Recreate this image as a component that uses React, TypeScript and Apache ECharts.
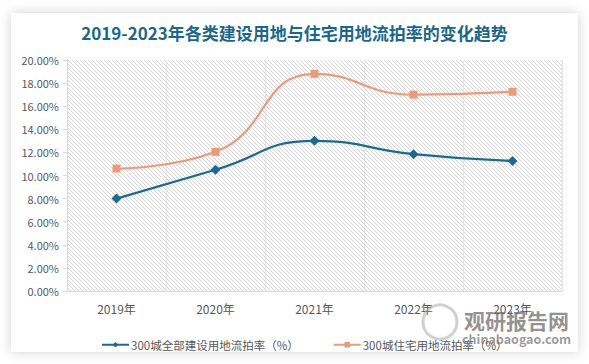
import React, { useEffect, useRef } from "react";
import * as echarts from "echarts";

const titleText = "2019-2023年各类建设用地与住宅用地流拍率的变化趋势";
const categories = ["2019年", "2020年", "2021年", "2022年", "2023年"];
const seriesNames = ["300城全部建设用地流拍率（%）", "300城住宅用地流拍率（%）"];
const allLandRate = [8.0, 10.5, 13.0, 11.85, 11.25];
const residentialRate = [10.6, 12.05, 18.8, 17.0, 17.25];
const yTicks = { min: 0, max: 20, interval: 2 };

const hatchSvg =
  "<svg xmlns='http://www.w3.org/2000/svg' width='4' height='4'>" +
  "<path d='M-1,-1 L5,5 M3,-1 L5,1 M-1,3 L1,5' stroke='#cfcfcf' stroke-width='0.9'/></svg>";
const hatchUrl = "data:image/svg+xml;charset=utf-8," + encodeURIComponent(hatchSvg);

const FONT = "'Noto Sans CJK SC', 'Noto Sans', sans-serif";

export default function App() {
  const ref = useRef<HTMLDivElement>(null);
  useEffect(() => {
    if (!ref.current) return;
    const chart = echarts.init(ref.current, null, { renderer: "svg" });
    chart.setOption({
      animation: false,
      backgroundColor: "#ffffff",
      textStyle: { fontFamily: FONT },
      title: {
        text: titleText,
        left: "center",
        top: 24,
        padding: 0,
        textStyle: {
          fontSize: 17,
          fontWeight: "bold",
          color: "#1d6688",
          fontFamily: FONT,
        },
      },
      graphic: [
        {
          type: "rect",
          z: -10,
          silent: true,
          shape: { x: 11, y: 13, width: 567, height: 339 },
          style: {
            fill: "#ffffff",
            shadowBlur: 12,
            shadowColor: "rgba(0,0,0,0.18)",
          },
        },
        {
          type: "circle",
          z: 100,
          silent: true,
          shape: { cx: 440, cy: 322, r: 17 },
          style: { fill: "none", stroke: "rgba(150,150,150,0.45)", lineWidth: 3 },
        },
        {
          type: "text",
          z: 100,
          silent: true,
          x: 464,
          y: 320,
          style: {
            text: "观研报告网",
            fontSize: 21,
            fontWeight: "bold",
            fill: "rgba(110,110,110,0.75)",
            fontFamily: FONT,
            verticalAlign: "middle",
          },
        },
        {
          type: "text",
          z: 100,
          silent: true,
          x: 462,
          y: 338,
          style: {
            text: "chinabaogao.com",
            fontSize: 12.5,
            fontWeight: "bold",
            fill: "rgba(110,110,110,0.7)",
            fontFamily: FONT,
            verticalAlign: "middle",
          },
        },
      ],
      grid: {
        left: 67,
        right: 27,
        top: 60,
        height: 231,
        show: true,
        borderWidth: 0,
        backgroundColor: {
          image: hatchUrl,
          repeat: "repeat",
          imageWidth: 4,
          imageHeight: 4,
        },
      },
      legend: {
        left: 96,
        top: 334,
        itemWidth: 27,
        itemHeight: 7,
        itemGap: 34,
        textStyle: { fontSize: 11.5, color: "#595959", fontFamily: FONT, padding: [0, 0, 0, -3] },
        data: seriesNames,
      },
      xAxis: {
        type: "category",
        data: categories,
        boundaryGap: true,
        axisLine: { show: true, lineStyle: { color: "#d9d9d9", width: 1 } },
        axisTick: { show: false },
        splitLine: { show: true, lineStyle: { color: "#e3e3e3", width: 1 } },
        axisLabel: { fontSize: 12, color: "#595959", margin: 11, fontFamily: FONT },
      },
      yAxis: {
        type: "value",
        min: yTicks.min,
        max: yTicks.max,
        interval: yTicks.interval,
        axisLine: { show: true, lineStyle: { color: "#d9d9d9" } },
        axisTick: { show: true, length: 4, lineStyle: { color: "#d9d9d9" } },
        splitLine: { show: false },
        axisLabel: {
          fontSize: 11,
          color: "#595959",
          margin: 8,
          fontFamily: FONT,
          formatter: (v: number) => v.toFixed(2) + "%",
        },
      },
      series: [
        {
          name: seriesNames[0],
          type: "line",
          smooth: true,
          data: allLandRate,
          symbol: "diamond",
          symbolSize: 10,
          color: "#1d6a8c",
          lineStyle: { width: 2.2, color: "#1d6a8c" },
          itemStyle: { color: "#1d6a8c" },
          z: 3,
        },
        {
          name: seriesNames[1],
          type: "line",
          smooth: true,
          data: residentialRate,
          symbol: "rect",
          symbolSize: 8,
          color: "#e99b7b",
          lineStyle: { width: 2.2, color: "#e99b7b" },
          itemStyle: { color: "#e99b7b" },
          z: 2,
        },
      ],
    });
    return () => chart.dispose();
  }, []);
  return (
    <div
      ref={ref}
      style={{ position: "fixed", left: 0, top: 0, width: 589, height: 364 }}
    />
  );
}
